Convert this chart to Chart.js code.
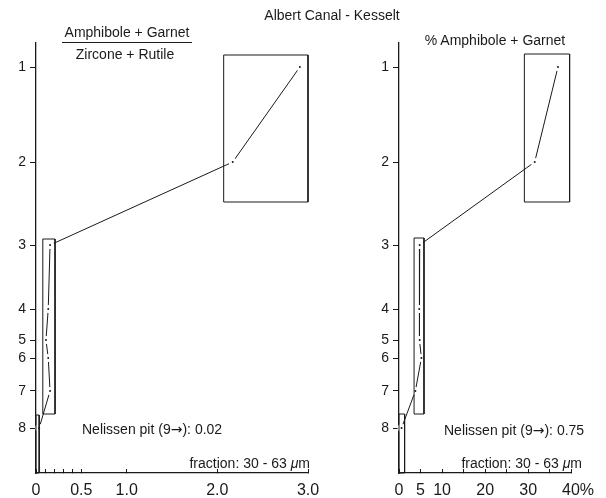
<!DOCTYPE html>
<html>
<head>
<meta charset="utf-8">
<script src="https://cdn.jsdelivr.net/npm/chart.js@4.4.1/dist/chart.umd.min.js"></script>
<style>
  html, body { margin: 0; padding: 0; background: #fff; }
  #wrap { position: relative; width: 606px; height: 498px; overflow: hidden;
          font-family: "Liberation Sans", Arial, sans-serif; color: #1a1a1a; }
  #wrap canvas { position: absolute; top: 0; }
  .lbl { position: absolute; font-size: 14px; line-height: 16px; white-space: nowrap; }
  .ctr { text-align: center; width: 240px; }
  .bar { position: absolute; border-top: 1px solid #1a1a1a; height: 0; }
  .arr { font-family: "DejaVu Sans", sans-serif; font-size: 14px; }
</style>
</head>
<body>
<div id="wrap">
  <canvas id="ratioChart" width="340" height="498" style="left:0"></canvas>
  <canvas id="pctChart" width="243" height="498" style="left:363px"></canvas>

  <div class="lbl ctr" style="left:212px; top:7px">Albert Canal - Kesselt</div>
  <div class="lbl ctr" style="left:7px; top:24px">Amphibole + Garnet</div>
  <div class="bar" style="left:62px; top:42px; width:130px"></div>
  <div class="lbl ctr" style="left:5px; top:46px">Zircone + Rutile</div>
  <div class="lbl ctr" style="left:375px; top:32px">% Amphibole + Garnet</div>

  <div class="lbl" style="left:82px; top:421px">Nelissen pit (9<span class="arr">→</span>): 0.02</div>
  <div class="lbl" style="left:444px; top:422px">Nelissen pit (9<span class="arr">→</span>): 0.75</div>
  <div class="lbl" style="right:296px; top:455px">fraction: 30 - 63 <i>μ</i>m</div>
  <div class="lbl" style="right:24px; top:455px">fraction: 30 - 63 <i>μ</i>m</div>
</div>

<script>
// sample numbers and their depth position (axis units, top = 0)
const samples = ["1", "2", "3", "4", "5", "6", "7", "8"];
const depths = [2.4, 11.9, 20.2, 26.6, 29.7, 31.5, 34.8, 38.5];
const depthMax = 43;

// (amphibole + garnet) / (zircone + rutile)
const ratio = [2.91, 2.17, 0.155, 0.135, 0.11, 0.135, 0.155, 0.035];
// % amphibole + garnet
const percent = [36.9, 31.5, 4.8, 4.7, 4.8, 5.2, 3.8, 0.6];

// range boxes: [xFrom, xTo, depthFrom, depthTo]
const ratioBoxes = [[2.07, 3.0, 1.2, 15.9], [0.075, 0.21, 19.6, 37.1], [0, 0.035, 37.2, 43]];
const percentBoxes = [[29.1, 39.6, 1.1, 15.9], [3.5, 5.8, 19.5, 37.1], [0, 1.3, 37.1, 43]];

// x tick positions and labels
const ratioTicks = [0, 0.1, 0.2, 0.3, 0.4, 0.5, 1.0, 2.0, 3.0];
const ratioTickLabels = ["0", "", "", "", "", "0.5", "1.0", "2.0", "3.0"];
const percentTicks = [0, 5, 10, 15, 20, 25, 30, 35, 40];
const percentTickLabels = ["0", "5", "10", "", "20", "", "30", "", "   40%"];

const ink = "#1a1a1a";
const font = "'Liberation Sans', Arial, sans-serif";

function boxDataset(b) {
  return {
    data: [
      { x: b[0], y: b[2] }, { x: b[1], y: b[2] },
      { x: b[1], y: b[3] }, { x: b[0], y: b[3] }, { x: b[0], y: b[2] }
    ],
    showLine: true,
    borderColor: ink,
    borderWidth: 1,
    pointRadius: 0,
    clip: false,
    order: 0
  };
}

function makeChart(id, values, boxes, xMax, xTicks, xLabels, padRight) {
  const series = {
    data: values.map((v, i) => ({ x: v, y: depths[i] })),
    showLine: true,
    borderColor: ink,
    borderWidth: 1,
    // white ring leaves a small gap in the line round each dot
    pointRadius: 2.5,
    pointBackgroundColor: ink,
    pointBorderColor: "#fff",
    pointBorderWidth: 3,
    clip: false,
    order: 1
  };

  return new Chart(document.getElementById(id), {
    type: "scatter",
    data: { datasets: [...boxes.map(boxDataset), series] },
    options: {
      responsive: false,
      animation: false,
      events: [],
      layout: { padding: { top: 43, right: padRight, bottom: 0, left: 0 } },
      plugins: { legend: { display: false }, tooltip: { enabled: false } },
      scales: {
        x: {
          type: "linear",
          min: 0,
          max: xMax,
          border: { color: ink, width: 1.3 },
          grid: { drawOnChartArea: false, drawTicks: true, tickLength: -4, color: ink },
          ticks: {
            autoSkip: false, maxRotation: 0, minRotation: 0, padding: 12,
            color: ink, font: { family: font, size: 16 },
            callback: (v, i) => xLabels[i]
          },
          afterBuildTicks: s => { s.ticks = xTicks.map(v => ({ value: v })); },
          afterFit: s => { s.height = 25; }
        },
        y: {
          type: "linear",
          reverse: true,
          min: 0,
          max: depthMax,
          border: { color: ink, width: 1.3 },
          grid: { drawOnChartArea: false, drawTicks: true, tickLength: 6, color: ink },
          ticks: {
            autoSkip: false, padding: 4,
            color: ink, font: { family: font, size: 14 },
            callback: (v, i) => samples[i]
          },
          afterBuildTicks: s => { s.ticks = depths.map(v => ({ value: v })); },
          afterFit: s => { s.width = 36; }
        }
      }
    }
  });
}

makeChart("ratioChart", ratio, ratioBoxes, 3, ratioTicks, ratioTickLabels, 32);
makeChart("pctChart", percent, percentBoxes, 40, percentTicks, percentTickLabels, 27);
</script>
</body>
</html>
